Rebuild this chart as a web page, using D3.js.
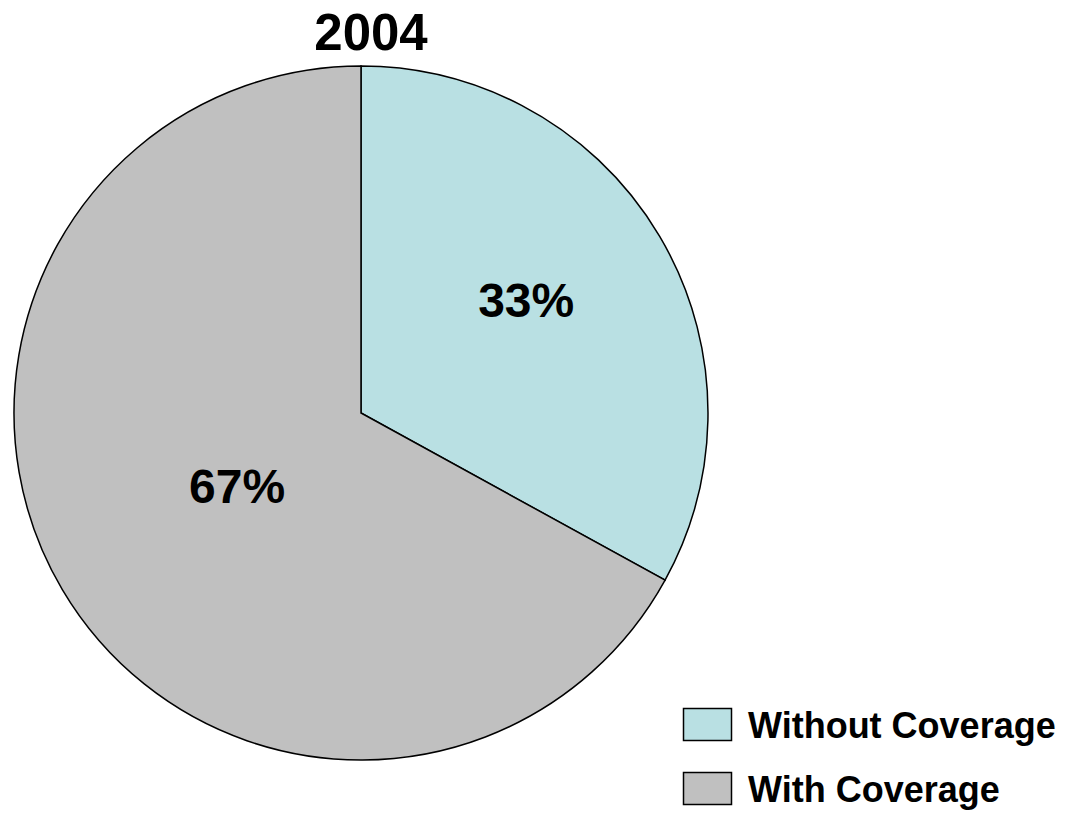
<!DOCTYPE html>
<html>
<head>
<meta charset="utf-8">
<script src="https://cdn.jsdelivr.net/npm/d3@7"></script>
<style>
  html, body { margin: 0; padding: 0; background: #ffffff; }
  svg { display: block; font-family: "Liberation Sans", Arial, sans-serif; }
</style>
</head>
<body>
<svg id="chart" width="1070" height="813"></svg>
<script>
// Coverage shares for 2004
const title = "2004";
const categories = ["Without Coverage", "With Coverage"];
const values = [33, 67];
const colors = ["#b9e0e3", "#c0c0c0"];

const svg = d3.select("#chart");
const cx = 361, cy = 413, radius = 347;
// label placement: distance from centre (share of radius) and angle nudge (degrees)
const labelRadius = [0.577, 0.415];
const labelNudge = [-3.8, 0];

const color = d3.scaleOrdinal().domain(categories).range(colors);

const pie = d3.pie().sort(null).value(d => d.value);
const data = categories.map((c, i) => ({ name: c, value: values[i] }));
const arcs = pie(data);

const arc = d3.arc().innerRadius(0).outerRadius(radius);

const g = svg.append("g").attr("transform", `translate(${cx},${cy})`);

g.selectAll("path.slice")
  .data(arcs)
  .join("path")
  .attr("class", "slice")
  .attr("d", arc)
  .attr("fill", d => color(d.data.name))
  .attr("stroke", "#000")
  .attr("stroke-width", 1.5)
  .attr("stroke-linejoin", "miter");

// Percentage labels placed near each slice's mid-angle
g.selectAll("text.pct")
  .data(arcs)
  .join("text")
  .attr("class", "pct")
  .each(function (d, i) {
    const r = radius * labelRadius[i];
    const a = (d.startAngle + d.endAngle) / 2 + labelNudge[i] * Math.PI / 180;
    d3.select(this)
      .attr("x", r * Math.sin(a))
      .attr("y", -r * Math.cos(a));
  })
  .attr("text-anchor", "middle")
  .attr("dy", "0.35em")
  .attr("font-size", 48)
  .attr("font-weight", "bold")
  .attr("fill", "#000")
  .text(d => d.data.value + "%");

// Title
svg.append("text")
  .attr("x", 371)
  .attr("y", 50)
  .attr("text-anchor", "middle")
  .attr("font-size", 51)
  .attr("font-weight", "bold")
  .attr("fill", "#000")
  .text(title);

// Legend
const legend = svg.append("g").attr("transform", "translate(683,708)");
const rowH = 64;
const items = legend.selectAll("g.item")
  .data(categories)
  .join("g")
  .attr("class", "item")
  .attr("transform", (d, i) => `translate(0,${i * rowH})`);

items.append("rect")
  .attr("x", 0.5)
  .attr("y", 0.5)
  .attr("width", 48)
  .attr("height", 32)
  .attr("fill", d => color(d))
  .attr("stroke", "#000")
  .attr("stroke-width", 1.5);

items.append("text")
  .attr("x", 65)
  .attr("y", 30)
  .attr("font-size", 36)
  .attr("font-weight", "bold")
  .attr("fill", "#000")
  .text(d => d);
</script>
</body>
</html>
